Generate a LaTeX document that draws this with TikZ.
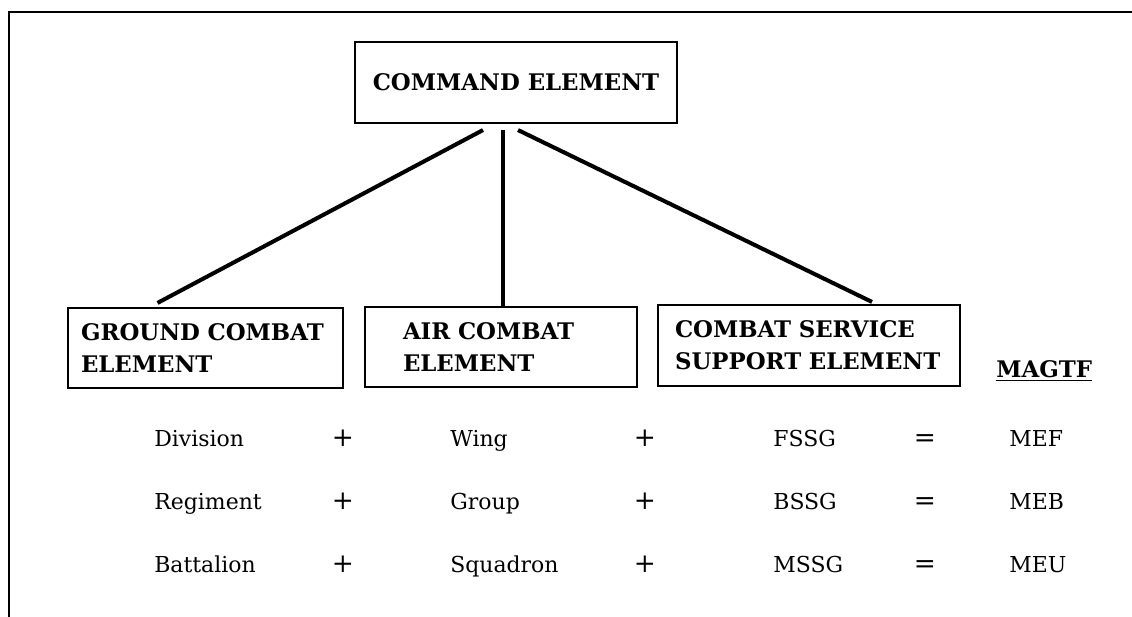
\documentclass[tikz,border=0pt]{standalone}
\usepackage{fontspec}
\setmainfont{DejaVu Serif}
\usetikzlibrary{calc}

\begin{document}
\begin{tikzpicture}[x=0.02cm, y=-0.02cm,
    element/.style={draw, line width=1.2pt, inner ysep=0pt, font=\bfseries\fontsize{13}{18}\selectfont},
    twoline/.style={element, align=left, minimum height=1.6cm},
    link/.style={line width=2.3pt},
    entry/.style={anchor=base west, inner sep=0pt, font=\fontsize{12.5}{15}\selectfont},
    sign/.style={anchor=base, inner sep=0pt, font=\fontsize{15}{15}\selectfont}]
    \useasboundingbox (0,0) rectangle (1132,617);

    % frame (top and left only)
    \draw[line width=1.1pt] (1132,12) -- (9,12) -- (9,617);

    % elements
    \node[element, minimum width=6.44cm, minimum height=1.62cm] (cmd) at (516,82.5) {COMMAND ELEMENT};
    \node[twoline, text width=4.98cm, inner xsep=0.26cm] (gce) at (205.5,348) {GROUND COMBAT\\ELEMENT};
    \node[twoline, text width=3.92cm, inner xsep=0.76cm] (ace) at (501,347) {AIR COMBAT\\ELEMENT};
    \node[twoline, text width=5.36cm, inner xsep=0.34cm, minimum height=1.62cm] (csse) at (809,345.5) {COMBAT SERVICE\\SUPPORT ELEMENT};
    \node[anchor=base west, inner sep=0pt, font=\bfseries\fontsize{13}{15}\selectfont] (magtf) at (996,378) {\underline{MAGTF}};

    \draw[link] ($(cmd.south)+(-33,6)$) -- ($(gce.north)+(-48,-4)$);
    \draw[link] ($(cmd.south)+(-13,6)$) -- ($(ace.north)+(2,0)$);
    \draw[link] ($(cmd.south)+(2,6)$) -- ($(csse.north)+(63,-2)$);

    % unit sums
    \foreach \g/\a/\s/\m [count=\i] in {Division/Wing/FSSG/MEF, Regiment/Group/BSSG/MEB, Battalion/Squadron/MSSG/MEU}{
        \pgfmathsetmacro\yb{384+63*\i}
        \node[entry] (g\i) at (154,\yb) {\g};
        \node[sign] (pa\i) at (343,\yb) {+};
        \node[entry] (a\i) at (450,\yb) {\a};
        \node[sign] (pb\i) at (645,\yb) {+};
        \node[entry] (s\i) at (773,\yb) {\s};
        \node[sign] (eq\i) at (925,\yb) {=};
        \node[entry] (m\i) at (1009,\yb) {\m};
    }
\end{tikzpicture}
\end{document}
